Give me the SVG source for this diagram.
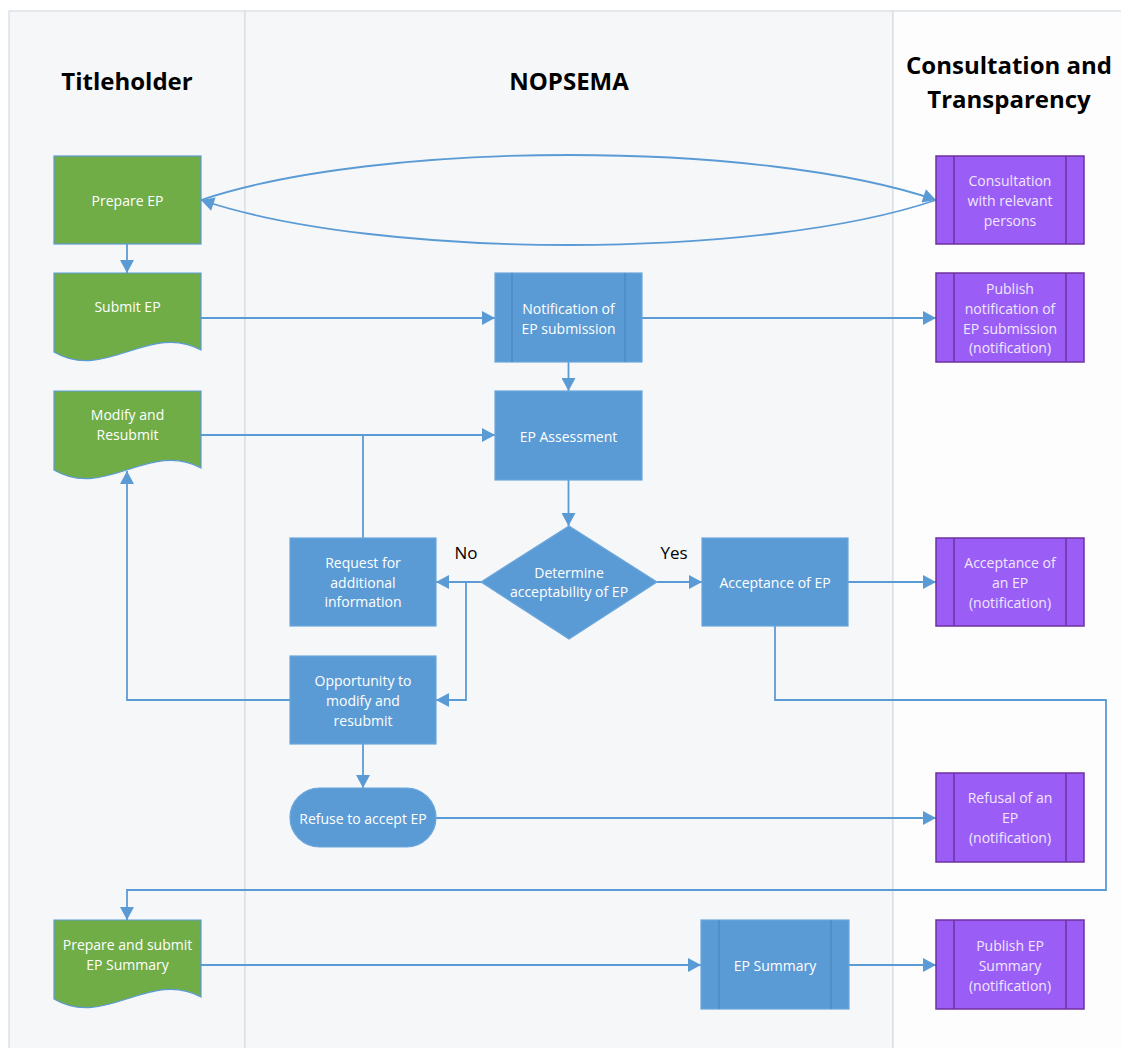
<svg xmlns="http://www.w3.org/2000/svg" width="1121" height="1048" viewBox="0 0 1121 1048">
<defs>
<marker id="ah" markerUnits="userSpaceOnUse" markerWidth="14" markerHeight="14" viewBox="0 0 13 14" refX="13" refY="7" orient="auto">
<path d="M0,0 L13,7 L0,14 Z" fill="#5B9BD5"/>
</marker>
<style>
.lane{stroke:#D6DCE3;stroke-width:1.2}
.title{font-family:"Open Sans","Liberation Sans",sans-serif;font-weight:bold;font-size:24px;fill:#000;text-anchor:middle}
.green{fill:#70AD47;stroke:#5B9BD5;stroke-width:1.2}
.blue{fill:#5B9BD5;stroke:#6AA6DC;stroke-width:1.2}
.band{stroke:#4A86C0;stroke-width:1.2;fill:none}
.purple{fill:#9A5EF6;stroke:#7030A0;stroke-width:1.5}
.pband{stroke:#7030A0;stroke-width:1.5;fill:none}
.t{font-family:"Open Sans","Liberation Sans",sans-serif;font-size:14px;fill:#FFFFFF;text-anchor:middle;dominant-baseline:central}
.pt{font-family:"Open Sans","Liberation Sans",sans-serif;font-size:14px;fill:#F1E6FF;text-anchor:middle;dominant-baseline:central}
.lbl{font-family:"Open Sans","Liberation Sans",sans-serif;font-size:17px;fill:#000;text-anchor:middle}
.c{fill:none;stroke:#5B9BD5;stroke-width:1.8}
.ca{fill:none;stroke:#5B9BD5;stroke-width:1.8;marker-end:url(#ah)}
</style>
</defs>
<rect x="0" y="0" width="1121" height="1048" fill="#FFFFFF"/>
<g id="lanes">
<rect x="9" y="11" width="236" height="1040" fill="#F6F7F8" class="lane"/>
<rect x="245" y="11" width="648" height="1040" fill="#F6F7F8" class="lane"/>
<rect x="893" y="11" width="230" height="1040" fill="#FDFDFD" class="lane"/>
<text class="title" x="127" y="90">Titleholder</text>
<text class="title" x="569" y="90">NOPSEMA</text>
<text class="title" x="1009" y="74">Consultation and</text>
<text class="title" x="1009" y="108">Transparency</text>
</g>
<g id="connectors">
<path class="ca" d="M127,244 V273"/>
<path class="ca" d="M201,200 C380,140 760,140 936,200"/>
<path class="ca" d="M936,200 C760,260 380,260 201,200"/>
<path class="ca" d="M201,318 H495"/>
<path class="ca" d="M642,318 H936"/>
<path class="ca" d="M568.5,362 V391"/>
<path class="ca" d="M201,435 H495"/>
<path class="c" d="M363,538 V435"/>
<path class="ca" d="M568.5,480 V526"/>
<path class="ca" d="M481,582 H436"/>
<path class="ca" d="M466,582 V700 H436"/>
<path class="ca" d="M657,582 H702"/>
<path class="ca" d="M848,582 H936"/>
<path class="ca" d="M290,700 H127 V471"/>
<path class="ca" d="M363,744 V788"/>
<path class="ca" d="M436,818 H936"/>
<path class="ca" d="M775,626 V700 H1106 V890 H127 V920"/>
<path class="ca" d="M201,965 H701"/>
<path class="ca" d="M849,965 H936"/>
</g>
<g id="prepare-ep">
<rect class="green" x="54" y="156" width="147" height="88"/>
<text class="t" x="127.5" y="200">Prepare EP</text>
</g>
<g id="submit-ep">
<path class="green" d="M54,273 H201 V350 C150,322 105,382 54,352 Z"/>
<text class="t" x="127.5" y="306">Submit EP</text>
</g>
<g id="modify-resubmit">
<path class="green" d="M54,391 H201 V468 C150,440 105,500 54,470 Z"/>
<text class="t" x="127.5" y="414">Modify and</text>
<text class="t" x="127.5" y="434">Resubmit</text>
</g>
<g id="prepare-summary">
<path class="green" d="M54,920 H201 V997 C150,969 105,1029 54,999 Z"/>
<text class="t" x="127.5" y="944">Prepare and submit</text>
<text class="t" x="127.5" y="964">EP Summary</text>
</g>
<g id="notification">
<rect class="blue" x="495" y="273" width="147" height="89"/>
<path class="band" d="M512,273 V362 M625,273 V362"/>
<text class="t" x="568.5" y="308">Notification of</text>
<text class="t" x="568.5" y="328">EP submission</text>
</g>
<g id="ep-assessment">
<rect class="blue" x="495" y="391" width="147" height="89"/>
<text class="t" x="568.5" y="436">EP Assessment</text>
</g>
<g id="determine">
<polygon class="blue" points="569,526 657,582 569,639 481,582"/>
<text class="t" x="569" y="572">Determine</text>
<text class="t" x="569" y="591">acceptability of EP</text>
</g>
<g id="labels">
<text class="lbl" x="466" y="559">No</text>
<text class="lbl" x="674" y="559">Yes</text>
</g>
<g id="request-info">
<rect class="blue" x="290" y="538" width="146" height="88"/>
<text class="t" x="363" y="562">Request for</text>
<text class="t" x="363" y="582">additional</text>
<text class="t" x="363" y="601">information</text>
</g>
<g id="opportunity">
<rect class="blue" x="290" y="656" width="146" height="88"/>
<text class="t" x="363" y="680">Opportunity to</text>
<text class="t" x="363" y="700">modify and</text>
<text class="t" x="363" y="720">resubmit</text>
</g>
<g id="refuse">
<rect class="blue" x="290" y="788" width="146" height="59" rx="29.5" ry="29.5"/>
<text class="t" x="363" y="818">Refuse to accept EP</text>
</g>
<g id="acceptance">
<rect class="blue" x="702" y="538" width="146" height="88"/>
<text class="t" x="775" y="582">Acceptance of EP</text>
</g>
<g id="ep-summary">
<rect class="blue" x="701" y="920" width="148" height="89"/>
<path class="band" d="M719,920 V1009 M831,920 V1009"/>
<text class="t" x="775" y="965">EP Summary</text>
</g>
<g id="consultation">
<rect class="purple" x="936" y="156" width="148" height="88"/>
<path class="pband" d="M954,156 V244 M1066,156 V244"/>
<text class="pt" x="1010" y="180">Consultation</text>
<text class="pt" x="1010" y="200">with relevant</text>
<text class="pt" x="1010" y="220">persons</text>
</g>
<g id="publish-notification">
<rect class="purple" x="936" y="273" width="148" height="89"/>
<path class="pband" d="M954,273 V362 M1066,273 V362"/>
<text class="pt" x="1010" y="288">Publish</text>
<text class="pt" x="1010" y="308">notification of</text>
<text class="pt" x="1010" y="328">EP submission</text>
<text class="pt" x="1010" y="347">(notification)</text>
</g>
<g id="acceptance-notification">
<rect class="purple" x="936" y="538" width="148" height="88"/>
<path class="pband" d="M954,538 V626 M1066,538 V626"/>
<text class="pt" x="1010" y="562">Acceptance of</text>
<text class="pt" x="1010" y="582">an EP</text>
<text class="pt" x="1010" y="602">(notification)</text>
</g>
<g id="refusal-notification">
<rect class="purple" x="936" y="773" width="148" height="89"/>
<path class="pband" d="M954,773 V862 M1066,773 V862"/>
<text class="pt" x="1010" y="797">Refusal of an</text>
<text class="pt" x="1010" y="817">EP</text>
<text class="pt" x="1010" y="837">(notification)</text>
</g>
<g id="publish-summary">
<rect class="purple" x="936" y="920" width="148" height="89"/>
<path class="pband" d="M954,920 V1009 M1066,920 V1009"/>
<text class="pt" x="1010" y="945">Publish EP</text>
<text class="pt" x="1010" y="965">Summary</text>
<text class="pt" x="1010" y="985">(notification)</text>
</g>
</svg>
